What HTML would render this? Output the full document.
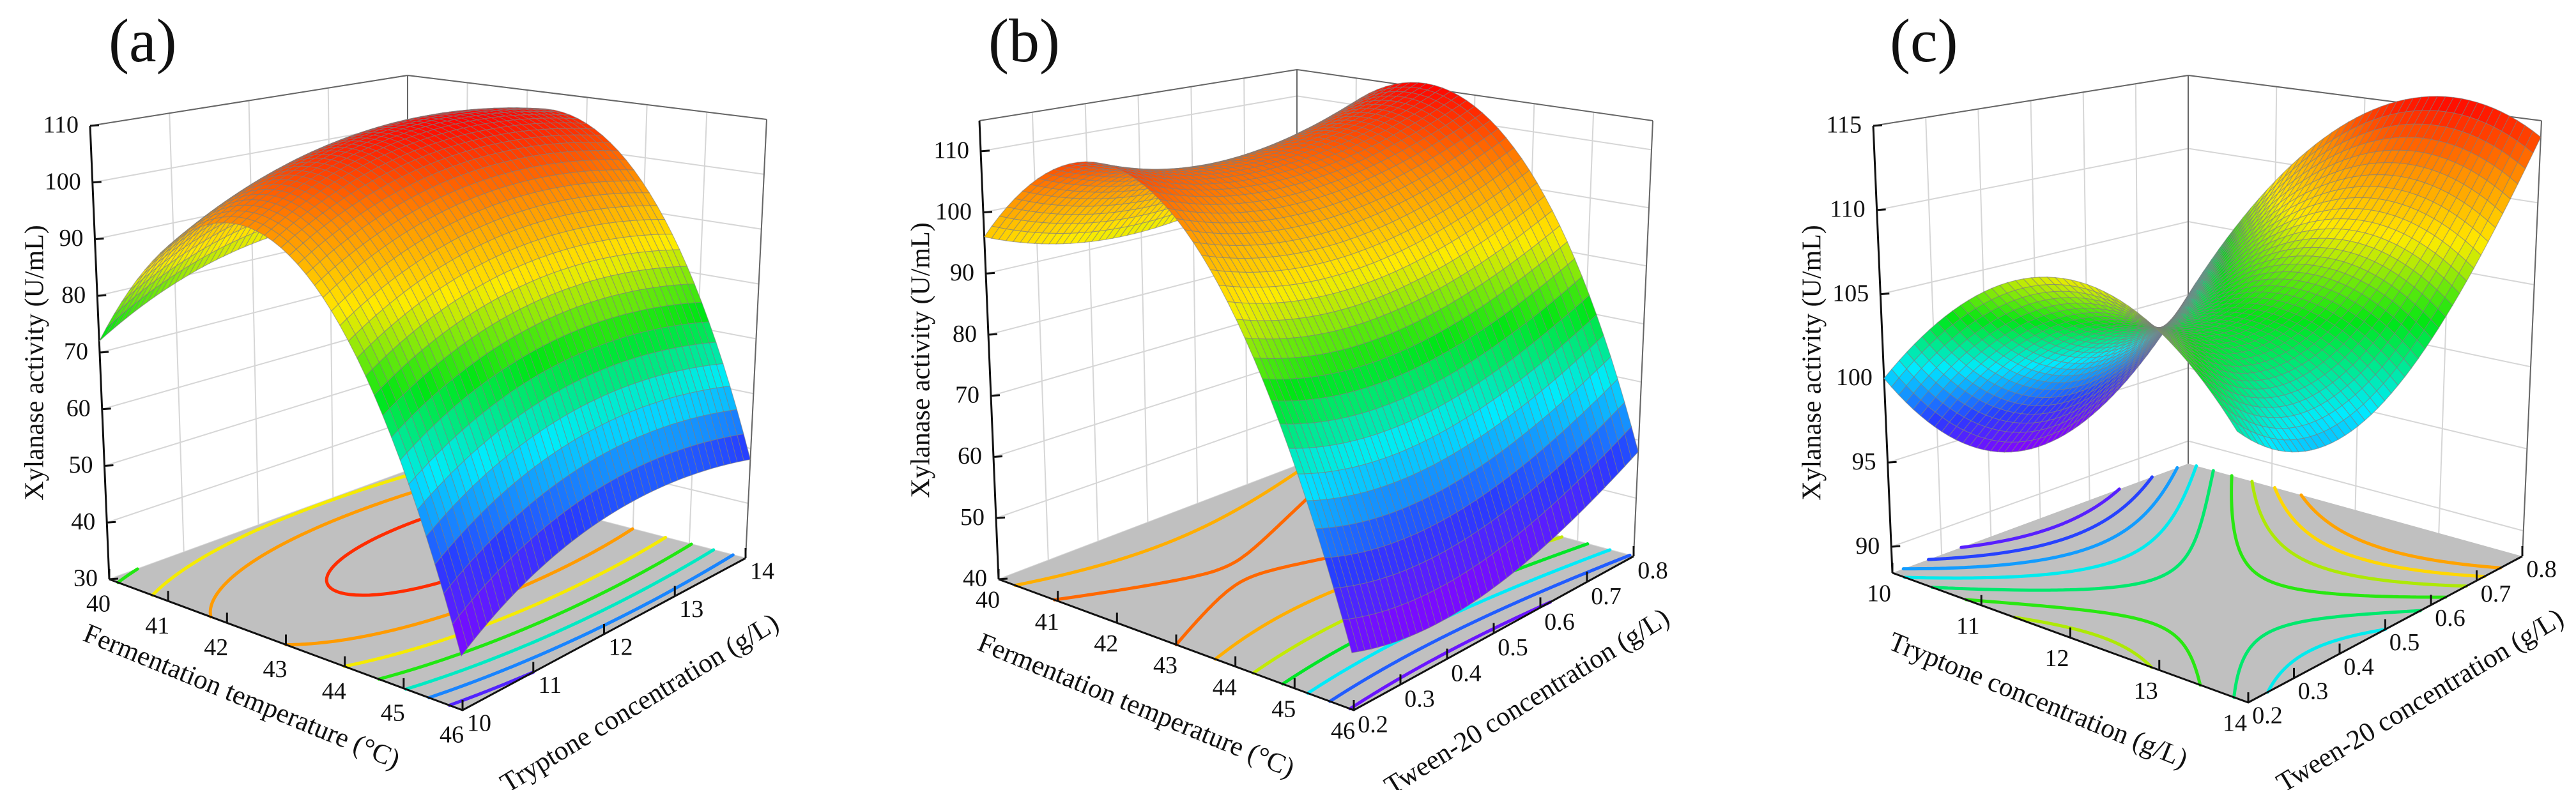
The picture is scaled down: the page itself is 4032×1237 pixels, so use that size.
<!DOCTYPE html>
<html><head><meta charset="utf-8">
<style>
html,body{margin:0;padding:0;background:#fff;}
svg{display:block;}
text{font-family:"Liberation Serif","DejaVu Serif",serif;fill:#111;}
</style></head>
<body>
<svg id="fig" xmlns="http://www.w3.org/2000/svg" width="4032" height="1237" viewBox="0 0 4032 1237">
<rect x="0" y="0" width="4032" height="1237" fill="#fff"/>
</svg>
<script>
// ---- data: quadratic model coefficients [b0, b1, b2, b11, b22, b12] (coded -1..1) ----
const coefA = [106, -17, 5, -40, -6, 0];
const coefB = [104, -22, 3, -35, 6, 2];
const coefC = [104, 4, 3, -7, 7, 3];
// tick labels
const xTicksA = [40, 41, 42, 43, 44, 45, 46];
const yTicksA = [10, 11, 12, 13, 14];
const zTicksA = [30, 40, 50, 60, 70, 80, 90, 100, 110];
const xTicksB = [40, 41, 42, 43, 44, 45, 46];
const yTicksB = [0.2, 0.3, 0.4, 0.5, 0.6, 0.7, 0.8];
const zTicksB = [40, 50, 60, 70, 80, 90, 100, 110];
const xTicksC = [10, 11, 12, 13, 14];
const yTicksC = [0.2, 0.3, 0.4, 0.5, 0.6, 0.7, 0.8];
const zTicksC = [90, 95, 100, 105, 110, 115];
// contour levels
const levelsA = [45, 55, 65, 75, 85, 95, 105];
const levelsB = [50, 60, 70, 80, 90, 100, 107];
const levelsC = [95, 97, 99, 101, 103, 105, 107, 109, 111];
// axis ranges
const xRangeA = [40, 46], yRangeA = [10, 14], zRangeA = [30, 110];
const xRangeB = [40, 46], yRangeB = [0.2, 0.8], zRangeB = [40, 115];
const xRangeC = [10, 14], yRangeC = [0.2, 0.8], zRangeC = [88.45, 115];

const NS = 'http://www.w3.org/2000/svg';
const svg = document.getElementById('fig');

const panels = [
 {id:'a', coef:coefA, xt:xTicksA, yt:yTicksA, zt:zTicksA, lv:levelsA, xr:xRangeA, yr:yRangeA, zr:zRangeA,
  Lf:[171,907], Ff:[724,1112], Rf:[1167,874], Bf:[638,737],
  Lt:[141,197], Ft:[703,266], Rt:[1200,187], Bt:[638,118],
  xoff:[-17,42], yoff:[26,24], letter:[170,96],
  zTitle:[58,568], xTitle:[377,1094], yTitle:[1003,1104],
  xName:'Fermentation temperature (°C)', yName:'Tryptone concentration (g/L)', dec:0},
 {id:'b', coef:coefB, xt:xTicksB, yt:yTicksB, zt:zTicksB, lv:levelsB, xr:xRangeB, yr:yRangeB, zr:zRangeB,
  Lf:[1563,907], Ff:[2119,1112], Rf:[2557,871], Bf:[2030,729],
  Lt:[1533,189], Ft:[2090,269], Rt:[2587,189], Bt:[2030,109],
  xoff:[-17,36], yoff:[30,26], letter:[1547,96],
  zTitle:[1445,564], xTitle:[1777,1108], yTitle:[2392,1102],
  xName:'Fermentation temperature (°C)', yName:'Tween-20 concentration (g/L)', dec:1},
 {id:'c', coef:coefC, xt:xTicksC, yt:yTicksC, zt:zTicksC, lv:levelsC, xr:xRangeC, yr:yRangeC, zr:zRangeC,
  Lf:[2962,897], Ff:[3519,1100], Rf:[3948,871], Bf:[3425,726],
  Lt:[2932,197], Ft:[3485,268], Rt:[3978,189], Bt:[3425,118],
  xoff:[-21,36], yoff:[30,24], letter:[2958,96],
  zTitle:[2840,568], xTitle:[3189,1100], yTitle:[3790,1100],
  xName:'Tryptone concentration (g/L)', yName:'Tween-20 concentration (g/L)', dec:1}
];

const stops = [[0,[138,0,255]],[0.17,[40,60,255]],[0.34,[0,235,255]],[0.5,[0,230,20]],[0.67,[255,235,0]],[0.83,[255,140,0]],[1,[255,0,0]]];
function cmap(v){
  v = Math.max(0, Math.min(1, v));
  for (let i = 1; i < stops.length; i++) {
    if (v <= stops[i][0]) {
      const a = stops[i-1], b = stops[i], f = (v - a[0]) / (b[0] - a[0]);
      const c = a[1].map((q, k) => Math.round(q + (b[1][k] - q) * f));
      return 'rgb(' + c.join(',') + ')';
    }
  }
  return 'rgb(255,0,0)';
}
function bil(p, key, s, t){
  const L = p['L'+key], F = p['F'+key], R = p['R'+key], B = p['B'+key];
  const x = L[0]*(1-s)*(1-t) + F[0]*s*(1-t) + R[0]*s*t + B[0]*(1-s)*t;
  const y = L[1]*(1-s)*(1-t) + F[1]*s*(1-t) + R[1]*s*t + B[1]*(1-s)*t;
  return [x, y];
}
function proj(p, s, t, z){
  const f = bil(p, 'f', s, t), tp = bil(p, 't', s, t);
  const k = (z - p.zr[0]) / (p.zr[1] - p.zr[0]);
  return [f[0] + (tp[0] - f[0]) * k, f[1] + (tp[1] - f[1]) * k];
}
function model(c, s, t){
  const a = 2*s - 1, b = 2*t - 1;
  return c[0] + c[1]*a + c[2]*b + c[3]*a*a + c[4]*b*b + c[5]*a*b;
}
function sOf(p, x){ return (x - p.xr[0]) / (p.xr[1] - p.xr[0]); }
function tOf(p, y){ return (y - p.yr[0]) / (p.yr[1] - p.yr[0]); }
function pts(arr){ return arr.map(q => q[0].toFixed(1) + ',' + q[1].toFixed(1)).join(' '); }
function fmt(v, d){ return d ? v.toFixed(d) : String(v); }

panels.forEach(p => {
  const g = document.createElementNS(NS, 'g');
  
  
  svg.appendChild(g);
  const z0 = p.zr[0], z1 = p.zr[1];

  const grid = document.createElementNS(NS, 'g');
  
  
  grid.setAttribute('stroke', '#d6d6d6');
  grid.setAttribute('stroke-width', '2');
  g.appendChild(grid);
  let d = '';
  p.zt.forEach(z => {
    const a = proj(p,0,0,z), b = proj(p,0,1,z), c = proj(p,1,1,z);
    d += 'M' + a.join(',') + 'L' + b.join(',') + 'L' + c.join(',');
  });
  p.yt.forEach(y => {
    const t = tOf(p, y), a = proj(p,0,t,z0), b = proj(p,0,t,z1);
    d += 'M' + a.join(',') + 'L' + b.join(',');
  });
  p.xt.forEach(x => {
    const s = sOf(p, x), a = proj(p,s,1,z0), b = proj(p,s,1,z1);
    d += 'M' + a.join(',') + 'L' + b.join(',');
  });
  const gp = document.createElementNS(NS, 'path');
  
  
  gp.setAttribute('d', d);
  gp.setAttribute('fill', 'none');
  grid.appendChild(gp);

  const be = document.createElementNS(NS, 'path');
  
  
  const Bb = proj(p,0,1,z0), Bt = proj(p,0,1,z1), Lt = proj(p,0,0,z1), Rt = proj(p,1,1,z1), Rb = proj(p,1,1,z0);
  be.setAttribute('d', 'M' + Lt.join(',') + 'L' + Bt.join(',') + 'L' + Rt.join(',') + 'M' + Bb.join(',') + 'L' + Bt.join(',') + 'M' + Rb.join(',') + 'L' + Rt.join(','));
  be.setAttribute('stroke', '#666');
  be.setAttribute('stroke-width', '2');
  be.setAttribute('fill', 'none');
  g.appendChild(be);

  const fl = document.createElementNS(NS, 'polygon');
  
  
  fl.setAttribute('points', pts([proj(p,0,0,z0), proj(p,1,0,z0), proj(p,1,1,z0), proj(p,0,1,z0)]));
  fl.setAttribute('fill', '#c0c0c0');
  g.appendChild(fl);

  const N = 90;
  const vals = [];
  for (let i = 0; i <= N; i++) { vals.push([]); for (let j = 0; j <= N; j++) vals[i].push(model(p.coef, i/N, j/N)); }
  let zmin = Infinity, zmax = -Infinity;
  const M = 44;
  const sv = [];
  for (let i = 0; i <= M; i++) { sv.push([]); for (let j = 0; j <= M; j++) { const v = model(p.coef, i/M, j/M); sv[i].push(v); zmin = Math.min(zmin, v); zmax = Math.max(zmax, v); } }
  p.lv.forEach(lev => {
    let cd = '';
    for (let i = 0; i < N; i++) for (let j = 0; j < N; j++) {
      const c = [[i,j],[i+1,j],[i+1,j+1],[i,j+1]];
      const cp = [];
      for (let e = 0; e < 4; e++) {
        const A = c[e], B = c[(e+1)%4];
        const va = vals[A[0]][A[1]], vb = vals[B[0]][B[1]];
        if ((va >= lev) !== (vb >= lev)) {
          let f = (lev - va) / (vb - va);
          if (!isFinite(f)) f = 0.5;
          const s = (A[0] + (B[0]-A[0])*f) / N, t = (A[1] + (B[1]-A[1])*f) / N;
          cp.push(proj(p, s, t, z0));
        }
      }
      for (let k = 0; k + 1 < cp.length; k += 2) cd += 'M' + cp[k][0].toFixed(2) + ',' + cp[k][1].toFixed(2) + 'L' + cp[k+1][0].toFixed(2) + ',' + cp[k+1][1].toFixed(2);
    }
    if (cd) {
      const cl = document.createElementNS(NS, 'path');
      
      
      cl.setAttribute('d', cd);
      cl.setAttribute('fill', 'none');
      cl.setAttribute('stroke', cmap((lev - zmin) / (zmax - zmin)));
      cl.setAttribute('stroke-width', '5');
      cl.setAttribute('stroke-linecap', 'round');
      g.appendChild(cl);
    }
  });

  const fe = document.createElementNS(NS, 'path');
  
  
  const Lb = proj(p,0,0,z0), Fb = proj(p,1,0,z0);
  let fd = 'M' + Lb.join(',') + 'L' + Fb.join(',') + 'L' + Rb.join(',') + 'M' + Lb.join(',') + 'L' + Lt.join(',');
  p.xt.forEach(x => { const q = proj(p, sOf(p,x), 0, z0); fd += 'M' + q.join(',') + 'l0,-16'; });
  p.yt.forEach(y => { const q = proj(p, 1, tOf(p,y), z0); fd += 'M' + q.join(',') + 'l0,-16'; });
  p.zt.forEach(z => { const q = proj(p, 0, 0, z); fd += 'M' + q.join(',') + 'l14,-1'; });
  fe.setAttribute('d', fd);
  fe.setAttribute('stroke', '#111');
  fe.setAttribute('stroke-width', '3');
  fe.setAttribute('fill', 'none');
  g.appendChild(fe);

  const quads = [];
  for (let i = 0; i < M; i++) for (let j = 0; j < M; j++) {
    const far = (1 - (i+0.5)/M) + (j+0.5)/M;
    quads.push([far, i, j]);
  }
  quads.sort((a, b) => b[0] - a[0]);
  const sg = document.createElementNS(NS, 'g');
  
  
  sg.setAttribute('stroke', 'rgba(125,125,125,0.6)');
  sg.setAttribute('stroke-width', '1.1');
  g.appendChild(sg);
  quads.forEach(q => {
    const i = q[1], j = q[2];
    const a = proj(p, i/M, j/M, sv[i][j]), b = proj(p, (i+1)/M, j/M, sv[i+1][j]);
    const c = proj(p, (i+1)/M, (j+1)/M, sv[i+1][j+1]), e = proj(p, i/M, (j+1)/M, sv[i][j+1]);
    const avg = (sv[i][j] + sv[i+1][j] + sv[i+1][j+1] + sv[i][j+1]) / 4;
    const poly = document.createElementNS(NS, 'polygon');
    
    
    poly.setAttribute('points', pts([a, b, c, e]));
    poly.setAttribute('fill', cmap((avg - zmin) / (zmax - zmin)));
    sg.appendChild(poly);
  });

  function addText(x, y, str, size, name, anchor, rot){
    const tx = document.createElementNS(NS, 'text');
    
    
    tx.setAttribute('x', x.toFixed(1));
    tx.setAttribute('y', y.toFixed(1));
    tx.setAttribute('font-size', size);
    tx.setAttribute('text-anchor', anchor);
    tx.setAttribute('dominant-baseline', 'middle');
    if (rot) tx.setAttribute('transform', 'rotate(' + rot.toFixed(2) + ' ' + x.toFixed(1) + ' ' + y.toFixed(1) + ')');
    tx.textContent = str;
    g.appendChild(tx);
  }
  p.zt.forEach(z => { const q = proj(p,0,0,z); addText(q[0]-18, q[1]+2, String(z), 38, 'z-tick-label', 'end', 0); });
  p.xt.forEach(x => { const q = proj(p, sOf(p,x), 0, z0); addText(q[0]+p.xoff[0], q[1]+p.xoff[1], String(x), 38, 'x-tick-label', 'middle', 0); });
  p.yt.forEach(y => { const q = proj(p, 1, tOf(p,y), z0); addText(q[0]+p.yoff[0], q[1]+p.yoff[1], fmt(y, p.dec), 38, 'y-tick-label', 'middle', 0); });

  const angX = Math.atan2(Fb[1]-Lb[1], Fb[0]-Lb[0]) * 180 / Math.PI;
  const angY = Math.atan2(Rb[1]-Fb[1], Rb[0]-Fb[0]) * 180 / Math.PI;
  addText(p.zTitle[0], p.zTitle[1], 'Xylanase activity (U/mL)', 42, 'z-axis-title', 'middle', -90);
  addText(p.xTitle[0], p.xTitle[1], p.xName, 43, 'x-axis-title', 'middle', angX + 2);
  addText(p.yTitle[0], p.yTitle[1], p.yName, 43, 'y-axis-title', 'middle', angY - 3);

  const lt = document.createElementNS(NS, 'text');
  
  
  lt.setAttribute('x', p.letter[0]);
  lt.setAttribute('y', p.letter[1]);
  lt.setAttribute('font-size', '96');
  lt.textContent = '(' + p.id + ')';
  g.appendChild(lt);
});
</script>
</body></html>
